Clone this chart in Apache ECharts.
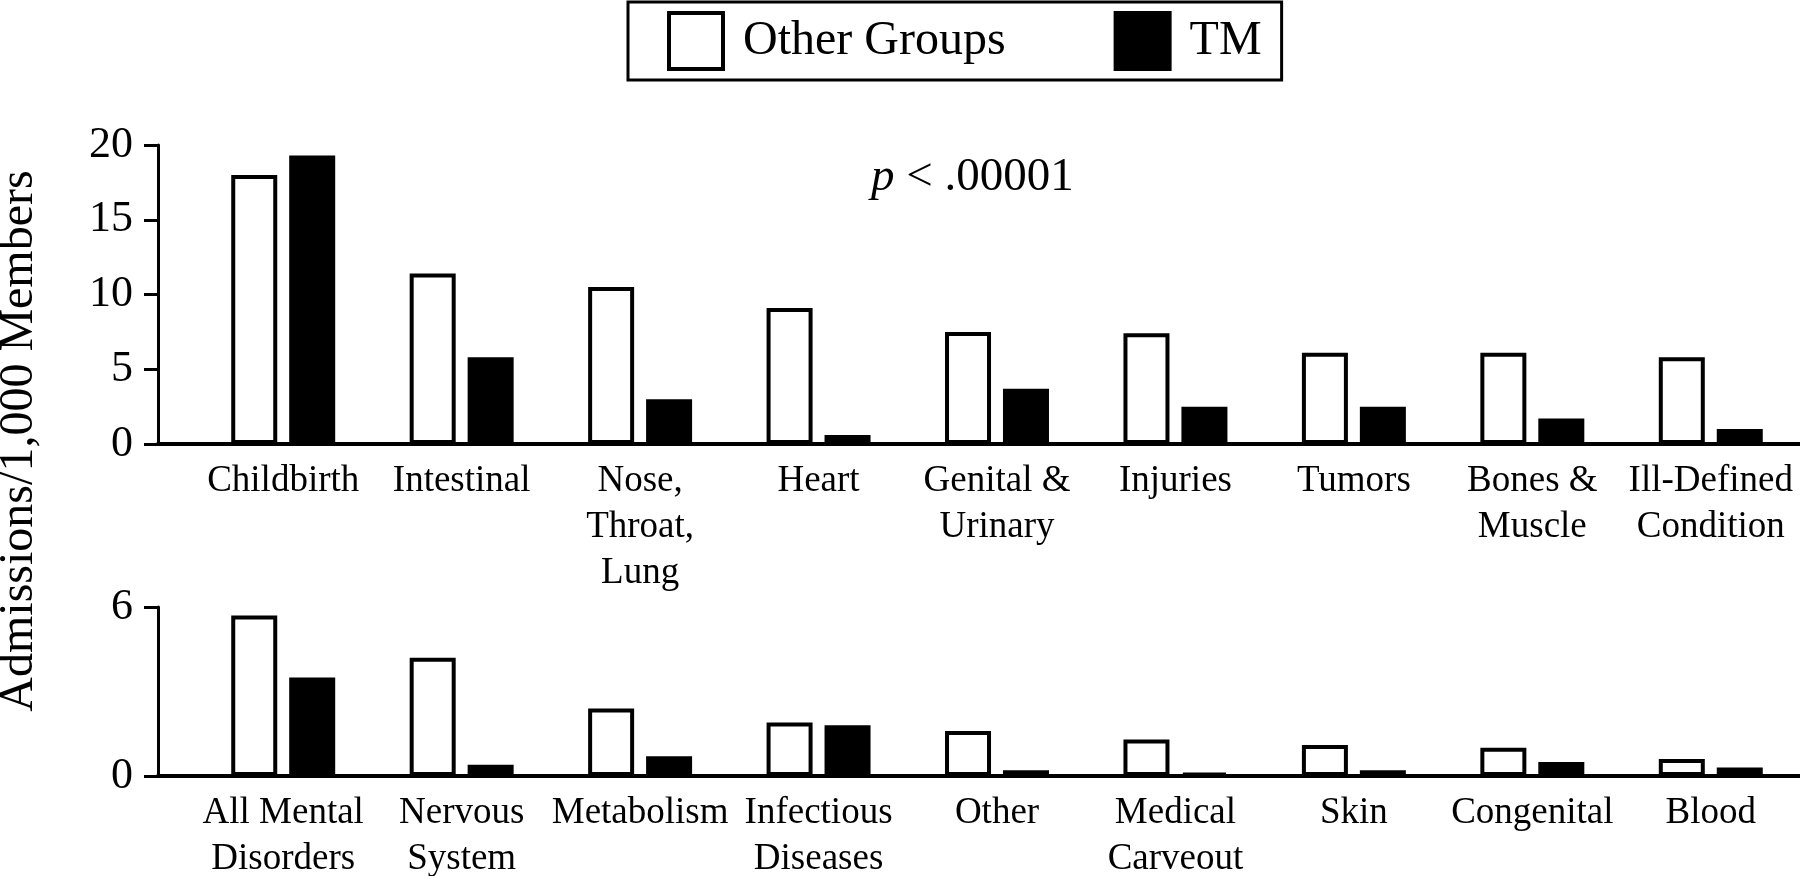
<!DOCTYPE html>
<html>
<head>
<meta charset="utf-8">
<script src="https://cdn.jsdelivr.net/npm/echarts@6/dist/echarts.min.js"></script>
<style>
  html, body { margin: 0; padding: 0; background: #fff; }
  #chart { width: 1800px; height: 876px; }
</style>
</head>
<body>
<div id="chart"></div>
<script>
// ---- Data ----
const seriesNames = ['Other Groups', 'TM'];

const topCategories = ['Childbirth', 'Intestinal', 'Nose,\nThroat,\nLung', 'Heart', 'Genital &\nUrinary', 'Injuries', 'Tumors', 'Bones &\nMuscle', 'Ill-Defined\nCondition'];
const topOther = [18.0, 11.4, 10.5, 9.1, 7.5, 7.4, 6.1, 6.1, 5.8];
const topTM    = [19.3, 5.8, 3.0, 0.6, 3.7, 2.5, 2.5, 1.7, 1.0];

const bottomCategories = ['All Mental\nDisorders', 'Nervous\nSystem', 'Metabolism', 'Infectious\nDiseases', 'Other', 'Medical\nCarveout', 'Skin', 'Congenital', 'Blood'];
const bottomOther = [5.7, 4.2, 2.4, 1.9, 1.6, 1.3, 1.1, 1.0, 0.6];
const bottomTM    = [3.5, 0.4, 0.7, 1.8, 0.2, 0.1, 0.2, 0.5, 0.3];

const topYMax = 20, topYInterval = 5;
const bottomYMax = 6, bottomYInterval = 6;

const yTitle = 'Admissions/1,000 Members';
const pText = '{i|p} < .00001';

// ---- Styles ----
const FONT = "'Liberation Serif', 'Times New Roman', serif";
const BLACK = '#000';

function frameAxes(gridIndex, max, interval) {
  return {
    x: {
      type: 'value', gridIndex, min: 0, max: 1,
      axisLine: { show: true, lineStyle: { color: BLACK, width: 4 } },
      axisTick: { show: false }, axisLabel: { show: false }, splitLine: { show: false }
    },
    y: {
      type: 'value', gridIndex, min: 0, max, interval,
      axisLine: { show: true, lineStyle: { color: BLACK, width: 3 } },
      axisTick: { show: true, inside: false, length: 14, lineStyle: { color: BLACK, width: 3 } },
      axisLabel: { color: BLACK, fontFamily: FONT, fontSize: 44, margin: 25 },
      splitLine: { show: false }
    }
  };
}
function barAxes(gridIndex, cats, max) {
  return {
    x: {
      type: 'category', gridIndex, data: cats,
      axisLine: { show: false }, axisTick: { show: false }, splitLine: { show: false },
      axisLabel: { interval: 0, color: BLACK, fontFamily: FONT, fontSize: 37, lineHeight: 46, margin: 14 }
    },
    y: { type: 'value', gridIndex, min: 0, max, show: false, splitLine: { show: false } }
  };
}

const f0 = frameAxes(0, topYMax, topYInterval);
const b1 = barAxes(1, topCategories, topYMax);
const f2 = frameAxes(2, bottomYMax, bottomYInterval);
const b3 = barAxes(3, bottomCategories, bottomYMax);

const otherStyle = { color: '#fff', borderColor: BLACK, borderWidth: 4 };
const tmStyle = { color: BLACK, borderColor: BLACK, borderWidth: 4 };

function barSeries(name, data, axisIdx, style) {
  return {
    type: 'bar', name, data, xAxisIndex: axisIdx, yAxisIndex: axisIdx,
    barWidth: 46, barGap: '26%', itemStyle: style, emphasis: { disabled: true }
  };
}

const gridBase = { right: 0, containLabel: false, outerBoundsMode: 'none' };

const chart = echarts.init(document.getElementById('chart'), null, { renderer: 'canvas' });
chart.setOption({
  backgroundColor: '#fff',
  animation: false,
  title: {
    text: pText, left: 866, top: 149,
    textStyle: {
      color: BLACK, fontFamily: FONT, fontSize: 47, fontWeight: 'normal',
      rich: { i: { fontStyle: 'italic', fontFamily: FONT, fontSize: 47, color: BLACK } }
    }
  },
  legend: {
    data: seriesNames, left: 628, top: 2,
    orient: 'horizontal',
    icon: 'rect',
    padding: [9, 20, 9, 39],
    itemWidth: 54, itemHeight: 56, itemGap: 108,
    itemStyle: { borderWidth: 4, borderColor: BLACK },
    borderColor: BLACK, borderWidth: 3,
    textStyle: { color: BLACK, fontFamily: FONT, fontSize: 48, padding: [0, 0, 0, 15] },
    selectedMode: false
  },
  grid: [
    Object.assign({ left: 158, top: 145, height: 299 }, gridBase),
    Object.assign({ left: 194, top: 145, height: 299 }, gridBase),
    Object.assign({ left: 158, top: 607, height: 169 }, gridBase),
    Object.assign({ left: 194, top: 607, height: 169 }, gridBase)
  ],
  xAxis: [f0.x, b1.x, f2.x, b3.x],
  yAxis: [f0.y, b1.y, f2.y, b3.y],
  series: [
    barSeries(seriesNames[0], topOther, 1, otherStyle),
    barSeries(seriesNames[1], topTM, 1, tmStyle),
    barSeries(seriesNames[0], bottomOther, 3, otherStyle),
    barSeries(seriesNames[1], bottomTM, 3, tmStyle)
  ],
  graphic: [{
    type: 'text', x: 19, y: 441, rotation: Math.PI / 2,
    style: { text: yTitle, fill: BLACK, font: "48px 'Liberation Serif', 'Times New Roman', serif", align: 'center', verticalAlign: 'middle' }
  }]
});
</script>
</body>
</html>
